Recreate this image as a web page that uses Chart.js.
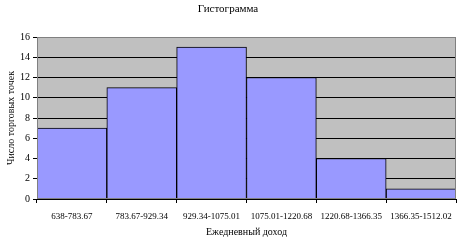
<!DOCTYPE html>
<html><head><meta charset="utf-8">
<script src="https://cdn.jsdelivr.net/npm/chart.js@4/dist/chart.umd.min.js"></script>
<style>html,body{margin:0;padding:0;background:#fff}#wrap{width:465px;height:243px}</style>
</head><body><div id="wrap"><canvas id="c" width="465" height="243"></canvas></div>
<script>
const categories = ["638-783.67","783.67-929.34","929.34-1075.01","1075.01-1220.68","1220.68-1366.35","1366.35-1512.02"];
const counts = [7, 11, 15, 12, 4, 1];
const yTicks = [0, 2, 4, 6, 8, 10, 12, 14, 16];

const F = "'Liberation Serif','Times New Roman',serif";
const bgPlugin = {
  id: 'bg',
  beforeDraw(chart) {
    const {ctx, chartArea: a} = chart;
    ctx.save();
    ctx.fillStyle = '#C0C0C0';
    ctx.fillRect(a.left, a.top, a.right - a.left, a.bottom - a.top);
    ctx.restore();
  },
  afterDraw(chart) {
    const {ctx, chartArea: a} = chart;
    ctx.save();
    ctx.strokeStyle = '#808080';
    ctx.lineWidth = 1;
    ctx.strokeRect(a.left + 0.5, a.top + 0.5, a.right - a.left - 1, a.bottom - a.top - 1);
    ctx.restore();
  }
};

new Chart(document.getElementById('c'), {
  type: 'bar',
  data: {
    labels: categories,
    datasets: [{
      data: counts,
      backgroundColor: '#9999FF',
      borderColor: '#000000',
      borderWidth: 1,
      categoryPercentage: 1,
      barPercentage: 1
    }]
  },
  options: {
    responsive: false,
    animation: false,
    devicePixelRatio: 1,
    layout: { padding: { left: 0, right: 9, top: 0, bottom: 0 } },
    plugins: {
      legend: { display: false },
      tooltip: { enabled: false },
      title: {
        display: true, text: 'Гистограмма', color: '#000',
        font: { family: F, size: 11, weight: 'normal' },
        padding: { top: 3, bottom: 20.8 }
      }
    },
    scales: {
      x: {
        offset: true,
        grid: { offset: true, drawOnChartArea: false, color: '#000', tickLength: 4 },
        border: { color: '#000' },
        ticks: { color: '#000', font: { family: F, size: 9 }, maxRotation: 0, autoSkip: false, padding: 8 },
        title: { display: true, text: 'Ежедневный доход', color: '#000', font: { family: F, size: 10 }, padding: { top: 4, bottom: 5 } },
        afterFit(s) { s.height = 44; }
      },
      y: {
        min: 0, max: 16,
        afterBuildTicks(s) { s.ticks = yTicks.map(v => ({ value: v })); },
        grid: { color: '#000', tickLength: 4 },
        border: { color: '#000' },
        ticks: { color: '#000', font: { family: F, size: 10 }, padding: 3 },
        title: { display: true, text: 'Число торговых точек', color: '#000', font: { family: F, size: 10 }, padding: { top: 5, bottom: 2 } },
        afterFit(s) { s.width = 37; }
      }
    }
  },
  plugins: [bgPlugin]
});
</script></body></html>
